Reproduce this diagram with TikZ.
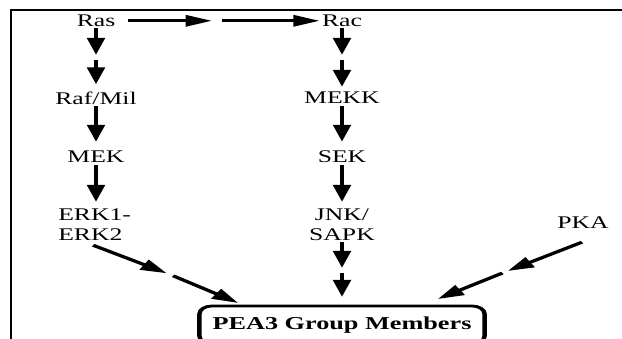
\documentclass[tikz,border=0pt]{standalone}
\usepackage{fontspec}
\setmainfont{Liberation Serif}[FakeStretch=0.93]
\usetikzlibrary{arrows.meta,calc}
\begin{document}
\begin{tikzpicture}[
  lbl/.style={inner sep=0pt, font=\fontsize{17.8}{19.4}\selectfont},
  arr/.style={line width=3pt, -{Triangle[length=17pt,width=11pt]}},
  boxed/.style={draw, line width=2.8pt, rounded corners=8pt, minimum width=184pt,
    minimum height=38pt, inner sep=0pt, font=\bfseries\fontsize{18.2}{19}\selectfont},
]
\useasboundingbox (0,0) rectangle (622pt,-339pt);
\fill[white] (0,0) rectangle (622pt,-339pt);
\draw[line width=2pt] (11pt,-341pt) -- (11pt,-10pt) -- (624pt,-10pt);
\begin{scope}[transform canvas={xscale=1.55}, x=0.64516pt, y=1pt]
  % nodes
  \node[lbl, anchor=base] (ras) at (96,-26.7) {Ras};
  \node[lbl, anchor=base] (rac) at (342,-26.7) {Rac};
  \node[lbl, anchor=base] (raf) at (96,-105) {Raf/Mil};
  \node[lbl, anchor=base] (mekk) at (342,-104) {MEKK};
  \node[lbl, anchor=base] (mek) at (96,-163) {MEK};
  \node[lbl, anchor=base] (sek) at (342,-163) {SEK};
  \node[lbl, anchor=north west, align=left] (erk) at (58,-208.7) {ERK1-\\ERK2};
  \node[lbl, anchor=north, align=center] (jnk) at (342,-208.7) {JNK/\\SAPK};
  \node[lbl, anchor=base] (pka) at (583,-229) {PKA};
  \node[boxed] (pea) at (342,-325) {PEA3 Group Members};
  % gap points
  \coordinate (hg) at (217,-20.8);
  \coordinate (g1) at (96,-57.5);
  \coordinate (g2) at (342,-57.5);
  \coordinate (g3) at (342,-270.5);
  \coordinate (g4) at (170,-274.5);
  \coordinate (g5) at (505,-272);
  % Ras -> Rac
  \draw[arr, shorten <=7.8pt, shorten >=3.2pt] (hg -| ras.east) -- (hg);
  \draw[arr, shorten <=3.2pt, shorten >=1.3pt] (hg) -- (hg -| rac.west);
  % left column
  \draw[arr, shorten <=1pt, shorten >=2.5pt] (ras.south) -- (g1);
  \draw[arr, shorten <=2.5pt, shorten >=7.8pt] (g1) -- (g1 |- raf.north);
  \draw[arr, shorten <=1pt, shorten >=9.2pt] (raf.south) -- (raf.south |- mek.north);
  \draw[arr, shorten <=2pt, shorten >=6.7pt] (mek.south) -- (mek.south |- erk.north);
  % right column
  \draw[arr, shorten <=1pt, shorten >=2.5pt] (rac.south) -- (g2);
  \draw[arr, shorten <=2.5pt, shorten >=5.2pt] (g2) -- (g2 |- mekk.north);
  \draw[arr, shorten <=2pt, shorten >=9.2pt] (mekk.south) -- (mekk.south |- sek.north);
  \draw[arr, shorten <=2pt, shorten >=6.7pt] (sek.south) -- (sek.south |- jnk.north);
  \draw[arr, shorten <=2pt, shorten >=2.5pt] (jnk.south) -- (g3);
  \draw[arr, shorten <=2.5pt, shorten >=7.6pt] (g3) -- (g3 |- pea.north);
  % ERK -> PEA3
  \draw[arr, shorten >=2.4pt] ($(erk.south)+(-1.5,-5)$) -- (g4);
  \draw[arr, shorten <=2.4pt] (g4) -- ($(pea.north west)+(41,1.6)$);
  % PKA -> PEA3
  \draw[arr, shorten >=2pt] ($(pka.south)+(-1,-13)$) -- (g5);
  \draw[arr, shorten <=2pt] (g5) -- ($(pea.north east)+(-49,5.6)$);
\end{scope}
\end{tikzpicture}
\end{document}
